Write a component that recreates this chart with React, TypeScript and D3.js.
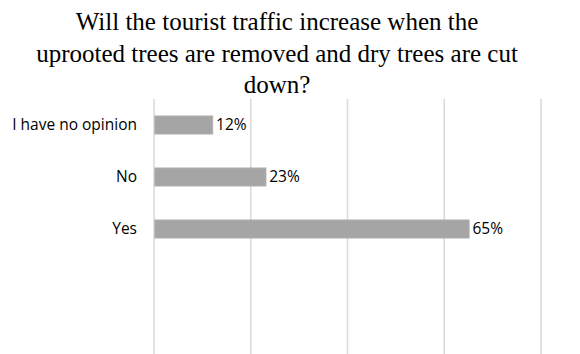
import React from "react";
import * as d3 from "d3";

const categories: string[] = ["I have no opinion", "No", "Yes", "", " "];
const values: (number | null)[] = [12, 23, 65, null, null];
const valueLabels: string[] = ["12%", "23%", "65%", "", ""];
const gridTicks: number[] = [0, 20, 40, 60, 80];
const titleLines: string[] = [
  "Will the tourist traffic increase when the",
  "uprooted trees are removed and dry trees are cut",
  "down?",
];

export default function App() {
  const W = 580;
  const H = 354;
  const x = d3.scaleLinear().domain([0, 80]).range([154, 541]);
  const y = d3.scaleBand<string>().domain(categories).range([99, 359]).paddingInner(0.65).paddingOuter(0.325);
  const labelFont = "Open Sans, Noto Sans, sans-serif";
  return (
    <svg width={W} height={H} style={{ position: "absolute", left: 0, top: 0, background: "#fff" }}>
      <rect x={0} y={0} width={W} height={H} fill="#fff" />
      <g style={{ fontFamily: "Liberation Serif, Times New Roman, Times, DejaVu Serif, serif" }} fontSize={25} fill="#000" textAnchor="middle">
        {titleLines.map((t, i) => (
          <text key={i} x={277} y={30 + i * 31.5}>{t}</text>
        ))}
      </g>
      {gridTicks.map((t) => (
        <line key={t} x1={x(t)} x2={x(t)} y1={99} y2={H} stroke="#d9d9d9" strokeWidth={1.5} />
      ))}
      {categories.map((c, i) => {
        const v = values[i];
        if (v == null) return null;
        const y0 = y(c)!;
        const bw = y.bandwidth();
        return (
          <g key={c}>
            <rect x={x(0) + 0.75} y={y0} width={x(v) - x(0)} height={bw} fill="#a5a5a5" stroke="#b4b4b4" strokeWidth={0.8} />
            <text x={x(v) + 4} y={y0 + bw / 2} dy="0.35em" style={{ fontFamily: labelFont }} fontSize={15.5} fill="#000">{valueLabels[i]}</text>
            <text x={137} y={y0 + bw / 2} dy="0.35em" textAnchor="end" style={{ fontFamily: labelFont }} fontSize={15.5} fill="#000">{c}</text>
          </g>
        );
      })}
    </svg>
  );
}
